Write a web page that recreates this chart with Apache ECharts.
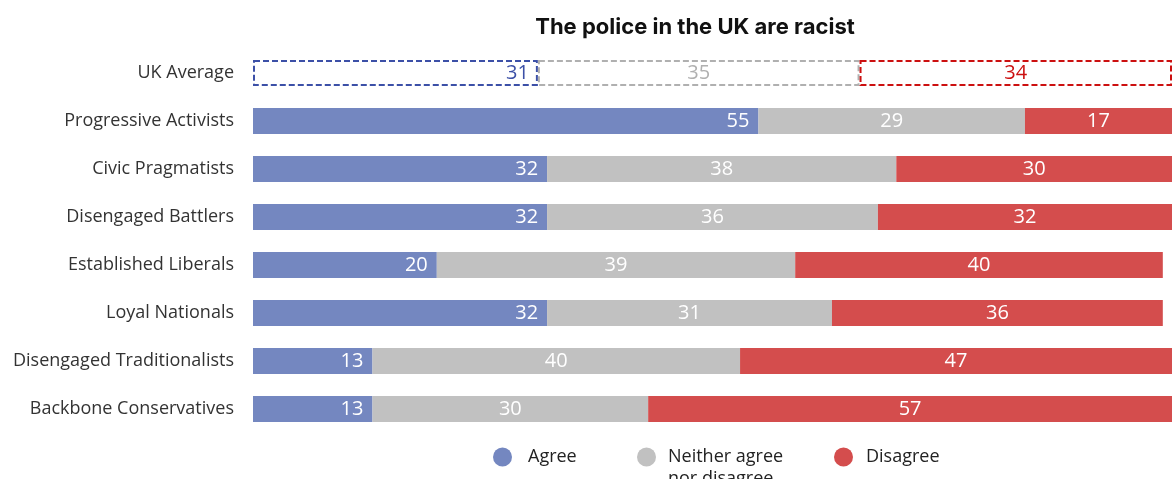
<!DOCTYPE html>
<html>
<head>
<meta charset="utf-8">
<script src="https://cdn.jsdelivr.net/npm/echarts@6/dist/echarts.min.js"></script>
<style>
  html, body { margin: 0; padding: 0; background: #fff; }
  #chart { width: 1172px; height: 479px; }
</style>
</head>
<body>
<div id="chart"></div>
<script>
// Survey segments, top to bottom (first row is the national average)
const categories = [
  'UK Average',
  'Progressive Activists',
  'Civic Pragmatists',
  'Disengaged Battlers',
  'Established Liberals',
  'Loyal Nationals',
  'Disengaged Traditionalists',
  'Backbone Conservatives'
];

// Share of each segment (%) per answer
const agree    = [31, 55, 32, 32, 20, 32, 13, 13];
const neither  = [35, 29, 38, 36, 39, 31, 40, 30];
const disagree = [34, 17, 30, 32, 40, 36, 47, 57];

const answerNames = ['Agree', 'Neither agree nor disagree', 'Disagree'];

const FONT = '"Open Sans", "Noto Sans", sans-serif';
const TITLE_FONT = 'Inter, "Open Sans", sans-serif';

// Palette: solid fill for segments, outline colour for the average row
const fills    = ['#7487c0', '#c1c1c1', '#d44d4d'];
const outlines = ['#3c50a7', '#b0b0b0', '#cc1010'];
const labelPos = ['insideRight', 'inside', 'inside'];

function buildSeries(values, idx) {
  return {
    name: answerNames[idx],
    type: 'bar',
    stack: 'total',
    barWidth: 26,
    itemStyle: { color: fills[idx] },
    label: {
      show: true,
      position: labelPos[idx],
      distance: 9,
      color: '#fff',
      fontFamily: FONT,
      fontSize: 20
    },
    emphasis: { disabled: true },
    data: values.map((v, i) => {
      if (i !== 0) return v;
      // Average row: dashed outline, no fill, coloured value text
      return {
        value: v,
        itemStyle: {
          color: 'rgba(255,255,255,0)',
          borderColor: outlines[idx],
          borderWidth: 2,
          borderType: [6, 3]
        },
        label: { color: outlines[idx] }
      };
    })
  };
}

// One legend per answer so each entry sits at its own spot
function legendFor(name, left, top, gap, text) {
  return {
    data: [name],
    left: left,
    top: top,
    padding: 0,
    icon: 'circle',
    itemWidth: 19,
    itemHeight: 19,
    itemGap: 0,
    selectedMode: false,
    formatter: text ? (() => text) : undefined,
    textStyle: {
      fontFamily: FONT,
      fontSize: 18,
      lineHeight: 22,
      color: '#222',
      padding: [0, 0, 0, gap]
    }
  };
}

const chart = echarts.init(document.getElementById('chart'), null, { renderer: 'canvas' });

chart.setOption({
  animation: false,
  title: {
    text: 'The police in the UK are racist',
    left: 690,
    top: 11,
    textAlign: 'center',
    textStyle: {
      fontFamily: TITLE_FONT,
      fontWeight: 'bold',
      fontSize: 22,
      color: '#111'
    }
  },
  legend: [
    legendFor(answerNames[0], 493, 446, 11),
    // leading blank line keeps the first text line level with the dot
    legendFor(answerNames[1], 637, 424, 7, ' \nNeither agree\nnor disagree'),
    legendFor(answerNames[2], 834, 446, 8)
  ],
  grid: { left: 253, right: 0, top: 49, height: 384 },
  xAxis: {
    type: 'value',
    min: 0,
    max: 100,
    show: false
  },
  yAxis: {
    type: 'category',
    data: categories,
    inverse: true,
    axisLine: { show: false },
    axisTick: { show: false },
    axisLabel: {
      margin: 19,
      fontFamily: FONT,
      fontSize: 18,
      color: '#333'
    }
  },
  series: [
    buildSeries(agree, 0),
    buildSeries(neither, 1),
    buildSeries(disagree, 2)
  ]
});
</script>
</body>
</html>
